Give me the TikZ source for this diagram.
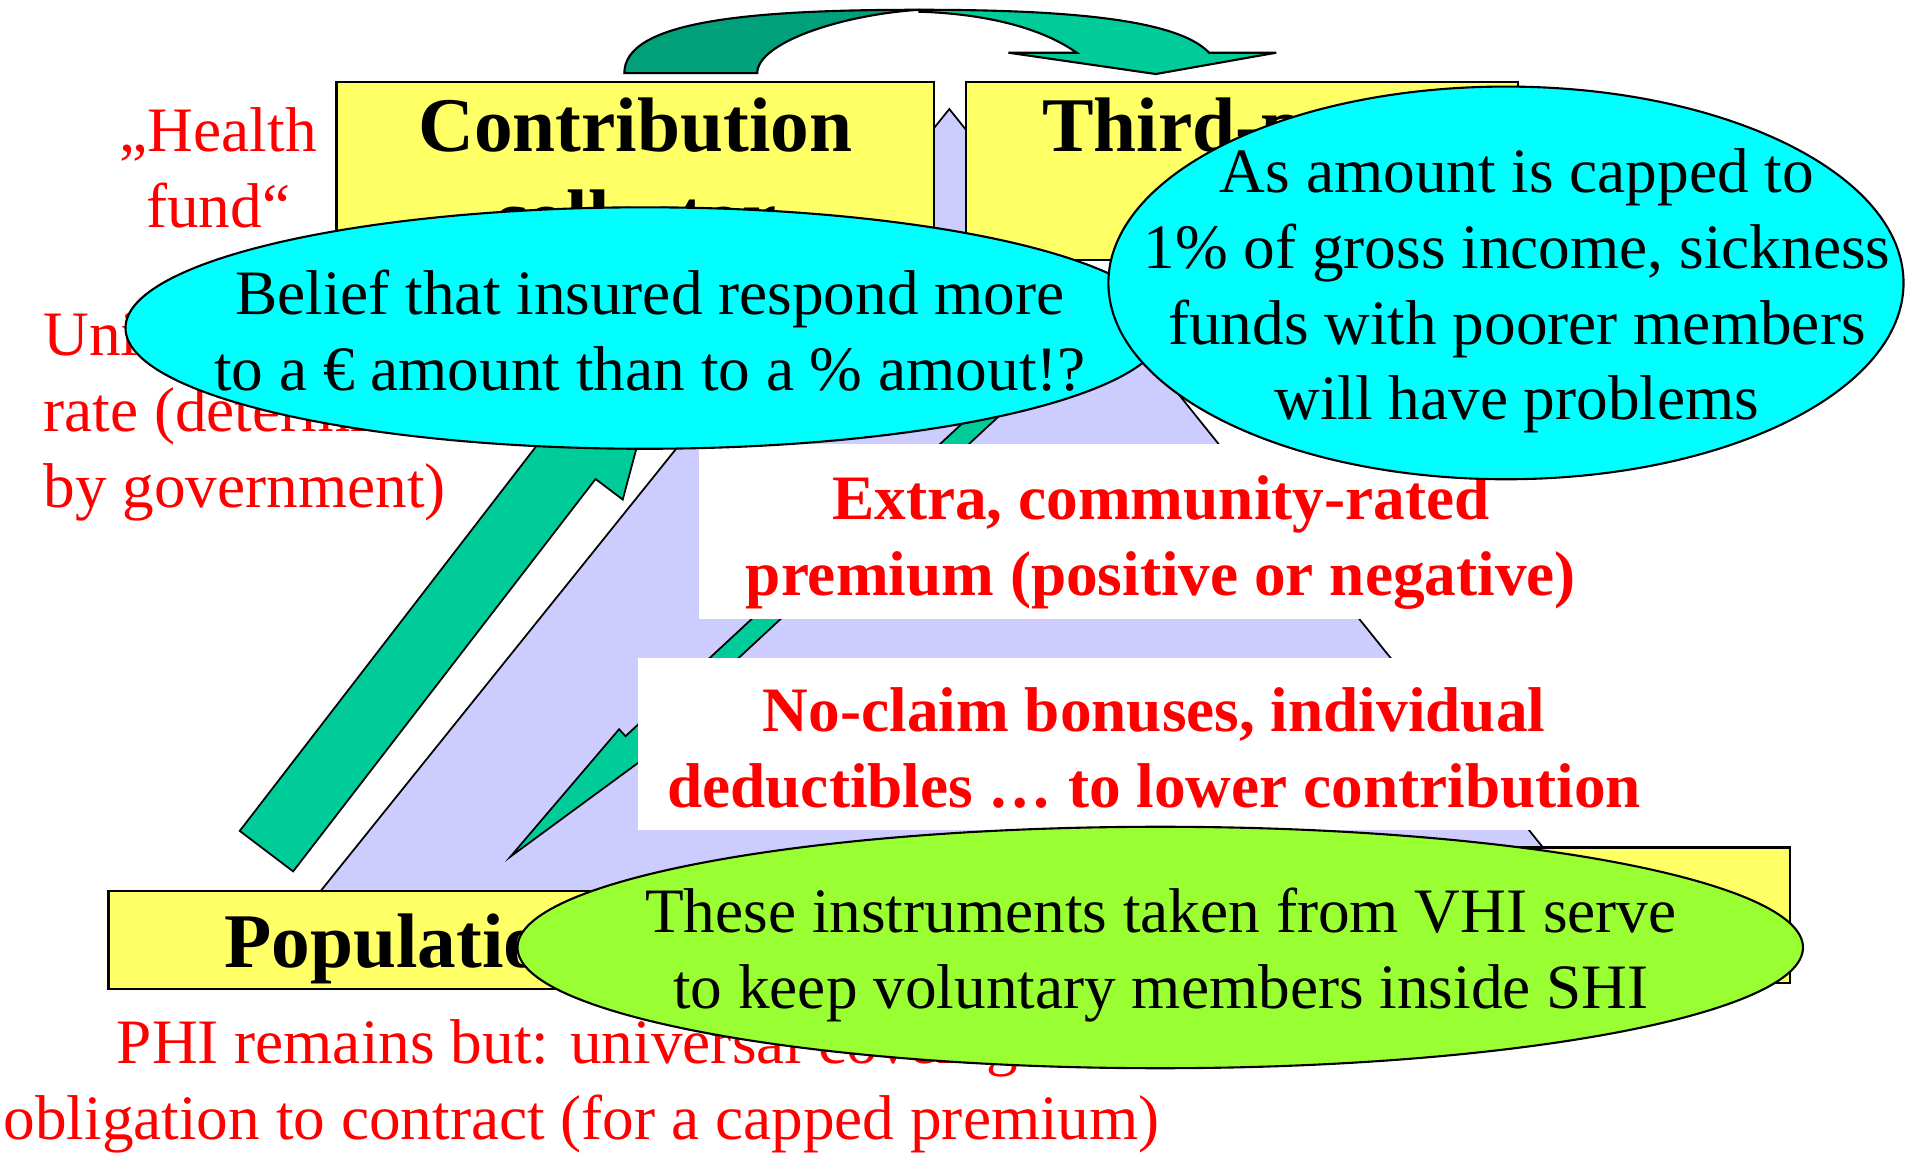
\documentclass[tikz,border=0pt]{standalone}
\usepackage{fontspec}
\setmainfont{Liberation Serif}
\usetikzlibrary{positioning, shapes.geometric}

\definecolor{boxyellow}{RGB}{255,255,102}
\definecolor{triblue}{RGB}{204,204,255}
\definecolor{arrowgreen}{RGB}{0,204,153}
\definecolor{arrowdark}{RGB}{0,160,122}
\definecolor{bubcyan}{RGB}{0,255,255}
\definecolor{bubgreen}{RGB}{153,255,51}
\definecolor{labelred}{RGB}{255,0,0}

\begin{document}
\begin{tikzpicture}[
  x=0.012194cm, y=-0.012194cm,
  actor/.style={draw, line width=0.6pt, fill=boxyellow, minimum height=1.78cm, align=center,
                inner sep=0pt, font=\fontsize{22}{26}\selectfont\bfseries},
  bubble/.style={ellipse, draw, line width=0.6pt, inner sep=0pt},
  bubtext/.style={align=center, inner sep=0pt, font=\fontsize{18}{21.6}\selectfont},
  infobox/.style={fill=white, inner sep=0pt, align=center, text=labelred,
                  font=\fontsize{18}{21.6}\selectfont\bfseries},
  redlbl/.style={text=labelred, inner sep=0pt, font=\fontsize{18}{21.6}\selectfont},
  blockarr/.style={draw, line width=0.5pt, fill=arrowgreen},
]
\useasboundingbox (0,0) rectangle (1568,945);

% Triangle
\draw[line width=0.5pt, fill=triblue] (778.5,89.4) -- (223.3,780) -- (1333.7,780) -- cycle;

% Block arrows
\draw[blockarr] (196.6,681.4) -- (444.6,359.6) -- (422.3,342.7) -- (548.6,267.8)
  -- (510.7,409.7) -- (488.4,392.8) -- (240.4,714.6) -- cycle;
\draw[blockarr] (879.9,262.9) -- (513.0,603.7) -- (507.7,598.0) -- (418.6,702.5)
  -- (529.3,621.2) -- (524.0,615.5) -- (890.9,274.7) -- cycle;

% Nodes
\node[actor, minimum width=5.975cm, text depth=0pt] (collector) at (521,140) {Contribution\\collector};
\node[actor, minimum width=5.524cm, text depth=0pt] (thirdparty) at (1018.5,140) {Third-party\\payer};
\node[actor, minimum width=5.926cm, minimum height=0.976cm, text height=20pt] (population) at (332,771) {Population};
\node[actor, minimum width=5.707cm, minimum height=1.354cm] (providers) at (1234,750.5) {};

% Curved arrow on top
\draw[line width=0.6pt, fill=arrowdark] (512,60) .. controls (512,18) and (610,8) .. (754,8)
  .. controls (690,12) and (621,35) .. (621,60) -- cycle;
\draw[line width=0.6pt, fill=arrowgreen] (754,8) .. controls (870,8) and (965,15) .. (991.5,43.2)
  -- (1046.6,43.2) -- (947.8,60.7) -- (827,43.2) -- (883,43.2)
  .. controls (850,20) and (800,11) .. (754,9.6) -- cycle;

% Instruments
\node[infobox, minimum width=9.243cm, minimum height=1.756cm, text height=40.1pt] (extra) at (952,436)
  {Extra, community-rated\\premium (positive or negative)};
\node[infobox, minimum width=10.328cm, minimum height=1.719cm, text height=36.1pt] (noclaim) at (946.5,610.5)
  {No-claim bonuses, individual\\deductibles … to lower contribution};

% Red labels
\node[redlbl, align=center] (healthfund) at (179,138) {„Health\\fund“};
\node[redlbl, align=left, anchor=west] (unirate) at (35,341)
  {Uniform contribution\\rate (determined\\by government)};
\node[redlbl, align=center] (phi) at (477,891)
  {PHI remains but: universal coverage\\obligation to contract (for a capped premium)};

% Comments
\node[bubble, fill=bubcyan, minimum width=10.389cm, minimum height=2.414cm] (belief) at (529,269) {};
\node[bubtext] (belieftext) at (533,271) {Belief that insured respond more\\to a € amount than to a \% amout!?};
\node[bubble, fill=bubcyan, minimum width=7.95cm, minimum height=3.926cm] (capped) at (1235,232) {};
\node[bubtext] (cappedtext) at (1244,238.5)
  {As amount is capped to\\1\% of gross income, sickness\\funds with poorer members\\will have problems};
\node[bubble, fill=bubgreen, minimum width=12.852cm, minimum height=2.414cm] (vhi) at (951.5,777) {};
\node[bubtext] (vhitext) at (952,783) {These instruments taken from VHI serve\\to keep voluntary members inside SHI};

\end{tikzpicture}
\end{document}
